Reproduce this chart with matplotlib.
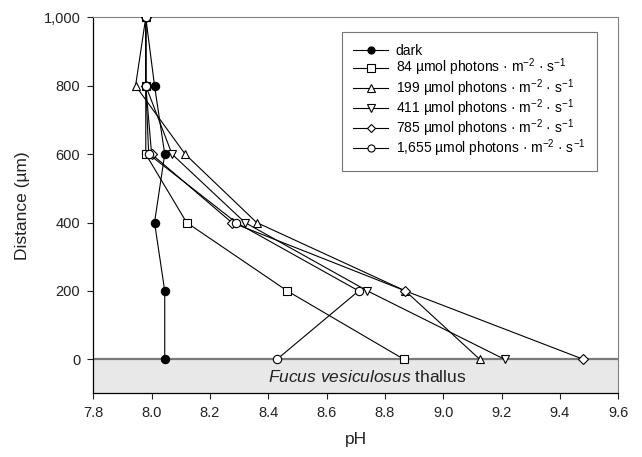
import numpy as np
import matplotlib
matplotlib.use("Agg")
import matplotlib.pyplot as plt

plt.rcParams['font.family'] = ['Liberation Sans', 'DejaVu Sans']
plt.rcParams['mathtext.fontset'] = 'custom'
plt.rcParams['mathtext.rm'] = 'Liberation Sans'
plt.rcParams['mathtext.it'] = 'Liberation Sans:italic'

# Depth above the thallus surface (um)
distance = [1000, 800, 600, 400, 200, 0]

# pH profiles
ph_dark = [7.98, 8.01, 8.045, 8.01, 8.045, 8.045]
ph_84 = [7.98, 7.98, 7.98, 8.12, 8.465, 8.865]
ph_199 = [7.98, 7.945, 8.115, 8.36, 8.87, 9.125]
ph_411 = [7.98, 7.98, 8.07, 8.32, 8.74, 9.21]
ph_785 = [7.98, 7.98, 8.0, 8.275, 8.87, 9.48]
ph_1655 = [7.98, 7.98, 7.99, 8.29, 8.71, 8.43]

unit = r" µmol photons · m$^{-2}$ · s$^{-1}$"
series = [
    ("dark", ph_dark, "o", "black"),
    ("84" + unit, ph_84, "s", "white"),
    ("199" + unit, ph_199, "^", "white"),
    ("411" + unit, ph_411, "v", "white"),
    ("785" + unit, ph_785, "D", "white"),
    ("1,655" + unit, ph_1655, "o", "white"),
]

fig = plt.figure(figsize=(6.42, 4.57), dpi=100)
ax = fig.add_axes([0.1453, 0.139, 0.8177, 0.823])

# Thallus band below the surface
ax.axhspan(-100, 0, color="#e8e8e8", zorder=0)
ax.axhline(0, color="#7a7a7a", lw=1.6, zorder=1)

for label, ph, marker, face in series:
    ms = 5.2 if marker == "D" else 6
    ax.plot(ph, distance, marker=marker, color="black", mfc=face, mec="black",
            ms=ms, lw=0.8, mew=0.8, label=label, zorder=3)

ax.text(8.738, -52, r"$\it{Fucus\ vesiculosus}$ thallus", ha="center", va="center",
        fontsize=12.5, color="#222222")

ax.set_xlim(7.8, 9.6)
ax.set_ylim(-100, 1000)
ax.set_xticks(np.arange(7.8, 9.61, 0.2))
ax.set_xticklabels([f"{v:.1f}" for v in np.arange(7.8, 9.61, 0.2)])
ax.set_yticks([0, 200, 400, 600, 800, 1000])
ax.set_yticklabels(["0", "200", "400", "600", "800", "1,000"])
ax.tick_params(direction="out", length=4.3, width=0.8, labelsize=10.5,
               colors="#222222", pad=5)

for side in ["top", "right"]:
    ax.spines[side].set_color("#808080")
    ax.spines[side].set_linewidth(0.8)
for side in ["left", "bottom"]:
    ax.spines[side].set_color("black")
    ax.spines[side].set_linewidth(0.9)

ax.set_xlabel("pH", fontsize=12.5, color="#222222", labelpad=8)
ax.set_ylabel("Distance (µm)", fontsize=12.5, color="#222222", labelpad=10)

leg = ax.legend(loc="upper right", bbox_to_anchor=(0.96, 0.96), fontsize=10,
                frameon=True, fancybox=False, edgecolor="#555555",
                handlelength=2.5, handletextpad=0.55, labelspacing=-0.1,
                borderpad=0.85, markerscale=0.85, borderaxespad=0)
leg.get_frame().set_linewidth(0.8)

fig.savefig("out.png", dpi=100)
